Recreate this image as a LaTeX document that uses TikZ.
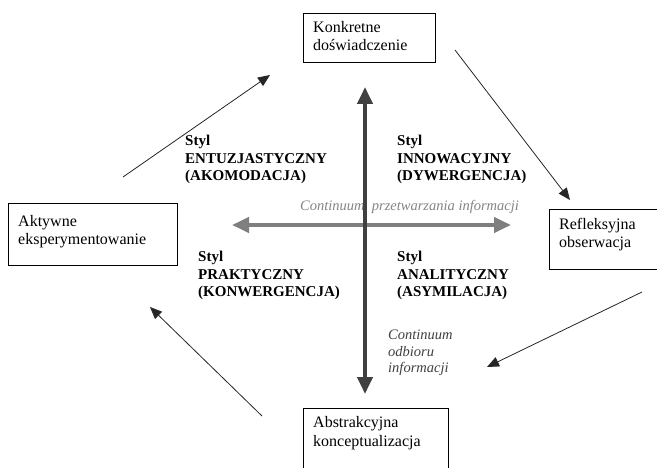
\documentclass[tikz,border=0pt]{standalone}
\usepackage{fontspec}
\setmainfont{Liberation Serif}
\usetikzlibrary{arrows.meta}
\definecolor{axgray}{HTML}{7F7F7F}
\definecolor{axdark}{HTML}{404040}
\definecolor{lblgray}{HTML}{858585}
\begin{document}
\begin{tikzpicture}[x=1pt,y=-1pt,
  box/.style={draw=black, line width=0.9pt, rectangle, inner sep=0pt, anchor=north west},
  boxtxt/.style={anchor=base west, inner sep=0pt, align=left, font=\fontsize{16}{18.2}\selectfont},
  stylelbl/.style={anchor=base west, inner sep=0pt, align=left, font=\fontsize{15}{17.8}\selectfont\bfseries},
  itlbl/.style={anchor=base west, inner sep=0pt, align=left, font=\fontsize{14.5}{17}\selectfont\itshape},
  cyc/.style={draw=black!85, line width=0.8pt, -{Triangle[length=12pt,width=10pt]}},
  axis/.style={line width=4pt, {Triangle[length=17pt,width=15pt]}-{Triangle[length=17pt,width=15pt]}}
]
\useasboundingbox (0,0) rectangle (657,468);
\clip (0,0) rectangle (657,468);
\fill[white] (0,0) rectangle (657,468);

% boxes
\node[box, minimum width=132pt, minimum height=49pt] (kd) at (303,13) {};
\node[box, minimum width=169pt, minimum height=62pt] (ae) at (8,203) {};
\node[box, minimum width=120pt, minimum height=60pt] (ro) at (549,209) {};
\node[box, minimum width=145pt, minimum height=70pt] (ak) at (303,408) {};

% (anchor = baseline of the last line)
\node[boxtxt] (kdt) at (313,51) {Konkretne\\doświadczenie};
\node[boxtxt] (aet) at (18,245) {Aktywne\\eksperymentowanie};
\node[boxtxt] (rot) at (559,248) {Refleksyjna\\obserwacja};
\node[boxtxt] (akt) at (313,446) {Abstrakcyjna\\konceptualizacja};

% style labels
\node[stylelbl] (s1) at (185,181) {Styl\\ENTUZJASTYCZNY\\(AKOMODACJA)};
\node[stylelbl] (s2) at (397,181) {Styl\\INNOWACYJNY\\(DYWERGENCJA)};
\node[stylelbl] (s3) at (198,297) {Styl\\PRAKTYCZNY\\(KONWERGENCJA)};
\node[stylelbl] (s4) at (397,297) {Styl\\ANALITYCZNY\\(ASYMILACJA)};

% axis labels
\node[itlbl, text=lblgray] (hl) at (300,211) {Continuum\ \ przetwarzania informacji};
\node[itlbl, text=axdark] (vl) at (388,373) {Continuum\\odbioru\\informacji};

% axes
\coordinate (hL) at (232,225);
\coordinate (hR) at (511,225);
\coordinate (vT) at (365,87);
\coordinate (vB) at (365,394);
\draw[axis, axgray] (hL) -- (hR);
\draw[axis, axdark] (vT) -- (vB);

% cycle arrows
\coordinate (a1s) at (123,177);
\coordinate (a1e) at (270,75);
\coordinate (a2s) at (455,50);
\coordinate (a2e) at (570,200);
\coordinate (a3s) at (642,292);
\coordinate (a3e) at (487,367);
\coordinate (a4s) at (262,416);
\coordinate (a4e) at (150,307);
\draw[cyc] (a1s) -- (a1e);
\draw[cyc] (a2s) -- (a2e);
\draw[cyc] (a3s) -- (a3e);
\draw[cyc] (a4s) -- (a4e);
\end{tikzpicture}
\end{document}
